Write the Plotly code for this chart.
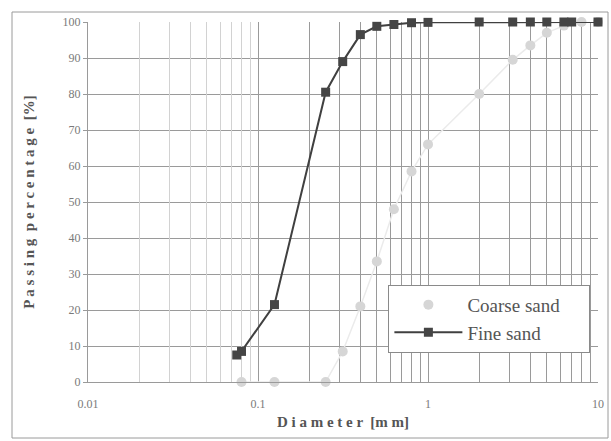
import plotly.graph_objects as go

# ---- data ----
fine_d = [0.075, 0.08, 0.125, 0.25, 0.315, 0.4, 0.5, 0.63, 0.8, 1.0, 2.0, 3.15, 4.0, 5.0, 6.3, 7.0, 10.0]
fine_p = [7.5, 8.5, 21.5, 80.5, 89, 96.5, 98.8, 99.3, 99.8, 99.9, 100, 100, 100, 100, 100, 100, 100]

coarse_d = [0.08, 0.125, 0.25, 0.315, 0.4, 0.5, 0.63, 0.8, 1.0, 2.0, 3.15, 4.0, 5.0, 6.3, 8.0, 10.0]
coarse_p = [0, 0, 0, 8.5, 21, 33.5, 48, 58.5, 66, 80, 89.5, 93.5, 97, 99, 100, 100]

y_ticks = [0, 10, 20, 30, 40, 50, 60, 70, 80, 90, 100]
decades = [0.01, 0.1, 1, 10]
decade_labels = ["0.01", "0.1", "1", "10"]

# main axis: decades + 2..9 in the 0.1-1 and 1-10 decades
x_tickvals, x_ticktext = [], []
for i, (d, lab) in enumerate(zip(decades[:-1], decade_labels[:-1])):
    x_tickvals.append(d)
    x_ticktext.append(lab)
    if i > 0:
        for k in range(2, 10):
            x_tickvals.append(d * k)
            x_ticktext.append("")
x_tickvals.append(decades[-1])
x_ticktext.append(decade_labels[-1])
# faint gridlines in the first decade
faint_vals = [decades[0] * k for k in range(2, 10)]

serif = "Liberation Serif"

fig = go.Figure()
fig.add_trace(go.Scatter(
    x=coarse_d, y=coarse_p, mode="lines", showlegend=False,
    line=dict(color="#ebebeb", width=1.5), cliponaxis=False, hoverinfo="skip"))
fig.add_trace(go.Scatter(
    x=coarse_d, y=coarse_p, mode="markers", name="Coarse sand" + "\u00a0" * 5,
    marker=dict(symbol="circle", size=10, color="#d6d6d6"), cliponaxis=False))
fig.add_trace(go.Scatter(
    x=fine_d, y=fine_p, mode="lines+markers", name="Fine sand",
    line=dict(color="#404040", width=2),
    marker=dict(symbol="square", size=9, color="#454545"), cliponaxis=False))

fig.update_layout(
    width=611, height=441,
    margin=dict(l=88, r=13, t=22, b=59, autoexpand=False),
    paper_bgcolor="white", plot_bgcolor="white",
    font=dict(family=serif, color="#777777", size=12),
    xaxis=dict(
        type="log", range=[-2, 1], automargin=False,
        tickmode="array", tickvals=x_tickvals, ticktext=x_ticktext,
        showgrid=True, gridcolor="#9a9a9a", gridwidth=1,
        zeroline=False, showline=True, linecolor="#9a9a9a", mirror=False,
        ticks="", ticklabelstandoff=11,
        tickfont=dict(family=serif, size=12, color="#7a7a7a"),
        title=dict(text="<b>D i a m e t e r  [m m]</b>", standoff=6,
                   font=dict(family=serif, size=15, color="#555555")),
    ),
    xaxis2=dict(
        type="log", range=[-2, 1], overlaying="x", side="bottom",
        tickmode="array", tickvals=faint_vals, showticklabels=False,
        showgrid=True, gridcolor="#d2d2d2", gridwidth=1,
        zeroline=False, showline=False, ticks="",
    ),
    yaxis=dict(
        range=[0, 100], tickmode="array", tickvals=y_ticks, automargin=False,
        showgrid=True, gridcolor="#9a9a9a", gridwidth=1,
        zeroline=False, showline=True, linecolor="#9a9a9a",
        ticks="outside", ticklen=4, tickcolor="#9a9a9a",
        tickfont=dict(family=serif, size=12, color="#7a7a7a"),
        title=dict(text="<b>P a s s i n g  p e r c e n t a g e  [%]</b>", standoff=24,
                   font=dict(family=serif, size=15, color="#555555")),
    ),
    legend=dict(
        x=0.589, y=0.27, xanchor="left", yanchor="top",
        bgcolor="white", bordercolor="#8a8a8a", borderwidth=1,
        font=dict(family=serif, size=19, color="#555555"),
        itemwidth=68, tracegroupgap=0,
    ),
    shapes=[dict(type="rect", xref="paper", yref="paper",
                 x0=(12 - 88) / 510, x1=(608 - 88) / 510,
                 y0=-(438 - 382) / 360, y1=1 + (22 - 12) / 360,
                 line=dict(color="#9a9a9a", width=1), layer="below")],
)
# invisible helper trace so the faint-grid axis is drawn
fig.add_trace(go.Scatter(x=[decades[0]], y=[None], xaxis="x2", showlegend=False,
                         hoverinfo="skip", mode="markers"))

fig.write_html("out.html", config={"displayModeBar": False},
               post_script="document.body.style.margin='0';")
